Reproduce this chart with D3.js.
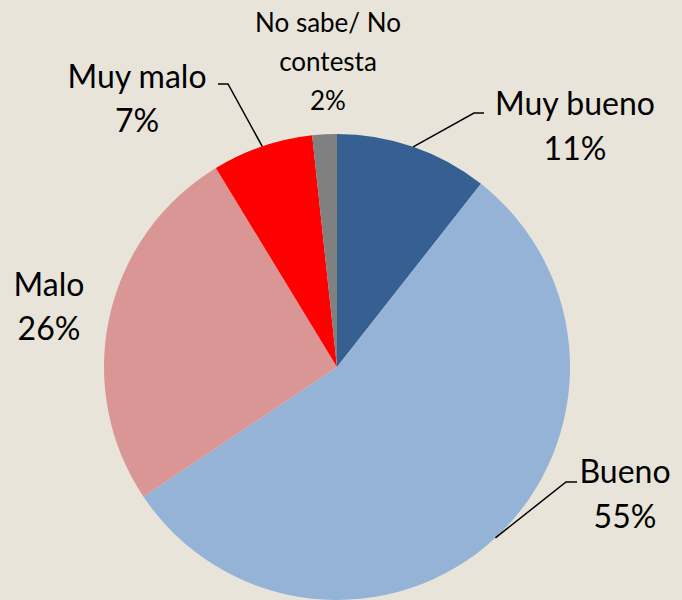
<!DOCTYPE html>
<html>
<head>
<meta charset="utf-8">
<script src="https://cdn.jsdelivr.net/npm/d3@7"></script>
<style>
  html, body { margin: 0; padding: 0; background: #e8e4da; }
  svg { display: block; }
</style>
</head>
<body>
<script>
'use strict';

// data
const categories = ['Muy bueno', 'Bueno', 'Malo', 'Muy malo', 'No sabe/ No contesta'];
const values = [10.6, 55, 25.7, 7, 1.7];
const pctLabels = ['11%', '55%', '26%', '7%', '2%'];
const colors = ['#376092', '#95b3d7', '#d99694', '#ff0000', '#808080'];

// label layout: text lines, anchor point, leader elbow (null = no leader)
const labelLines = [['Muy bueno', '11%'], ['Bueno', '55%'], ['Malo', '26%'], ['Muy malo', '7%'], ['No sabe/ No', 'contesta', '2%']];
const labelPos = [[575, 115], [625, 483], [49, 296], [137, 88], [328, 32]];
const labelSize = [32, 32, 32, 32, 26];
const labelStep = [45, 45, 44, 44, 39];
const elbows = [[[474, 113], [484, 113]], [[566, 482], [577, 482]], null, [[228, 84], [218, 84]], null];

const width = 682, height = 600;
const cx = 337, cy = 367, radius = 233;

const svg = d3.select('body').append('svg')
	.attr('width', width)
	.attr('height', height);

svg.append('rect').attr('width', width).attr('height', height).attr('fill', '#e8e4da');

const pie = d3.pie().sort(null).value(d => d);
const arcs = pie(values);
const arc = d3.arc().innerRadius(0).outerRadius(radius);

const g = svg.append('g').attr('transform', `translate(${cx},${cy})`);

g.selectAll('path.slice')
	.data(arcs)
	.enter().append('path')
	.attr('class', 'slice')
	.attr('d', arc)
	.attr('fill', (d, i) => colors[i]);

// leader lines
arcs.forEach((d, i) => {
	if (!elbows[i]) return;
	let mid = (d.startAngle + d.endAngle) / 2;
	let sx = cx + radius * Math.sin(mid);
	let sy = cy - radius * Math.cos(mid);
	let pts = [[sx, sy]].concat(elbows[i]);
	svg.append('path')
		.attr('d', d3.line()(pts))
		.attr('fill', 'none')
		.attr('stroke', '#000')
		.attr('stroke-width', 1.5);
});

// labels
categories.forEach((c, i) => {
	let t = svg.append('text')
		.attr('x', labelPos[i][0])
		.attr('y', labelPos[i][1])
		.attr('text-anchor', 'middle')
		.attr('font-family', 'Lato, "Open Sans", sans-serif')
		.attr('font-size', labelSize[i])
		.attr('fill', '#000');
	labelLines[i].forEach((line, j) => {
		t.append('tspan')
			.attr('x', labelPos[i][0])
			.attr('y', labelPos[i][1] + j * labelStep[i])
			.text(j === labelLines[i].length - 1 ? pctLabels[i] : line);
	});
});
</script>
</body>
</html>
